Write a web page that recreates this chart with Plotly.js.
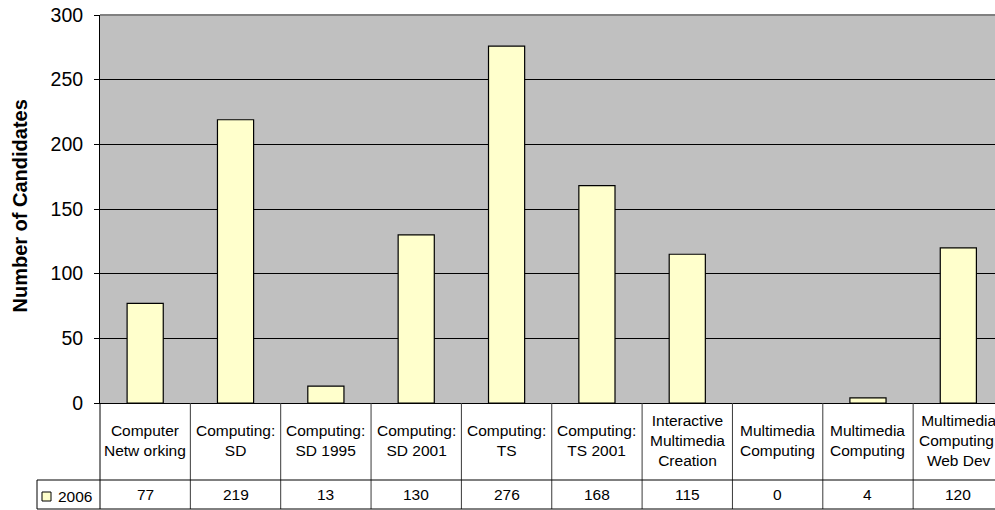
<!DOCTYPE html>
<html>
<head>
<meta charset="utf-8">
<script src="https://cdn.plot.ly/plotly-3.0.1.min.js"></script>
<style>
  html, body { margin: 0; padding: 0; background: #ffffff; overflow: hidden; }
  #chart { width: 995px; height: 510px; }
</style>
</head>
<body>
<div id="chart"></div>
<script>
// Programme names (table header lines) and 2006 candidate counts
const categories = [
  "Computer\nNetw orking",
  "Computing:\nSD",
  "Computing:\nSD 1995",
  "Computing:\nSD 2001",
  "Computing:\nTS",
  "Computing:\nTS 2001",
  "Interactive\nMultimedia\nCreation",
  "Multimedia\nComputing",
  "Multimedia\nComputing",
  "Multimedia\nComputing:\nWeb Dev"
];
const seriesName = "2006";
const values2006 = [77, 219, 13, 130, 276, 168, 115, 0, 4, 120];
const yTicks = [0, 50, 100, 150, 200, 250, 300];
const yTitle = "Number of Candidates";

// Geometry of the plot area (pixels)
const W = 995, H = 510;
const M = { l: 100, r: 0, t: 15, b: 107 };
const plotW = W - M.l - M.r;
const plotH = H - M.t - M.b;
const catPx = 90.35;                       // width of one category column
const xMax = -0.5 + plotW / catPx;         // last column runs past the right edge

// pixel -> paper helpers for the data table under the plot
const px = p => (p - M.l) / plotW;
const py = p => (M.t + plotH - p) / plotH;

const FONT = "Arial, 'Liberation Sans', sans-serif";
const idx = categories.map((_, i) => i);

const shapes = [];
const annotations = [];
const lineCol = "#3a3a3a";

// table: column separators from the x axis down to the bottom of the value row
for (let i = 1; i < categories.length; i++) {
  shapes.push({ type: "line", xref: "x", yref: "paper", x0: i - 0.5, x1: i - 0.5,
    y0: py(403), y1: py(509), line: { color: lineCol, width: 1 } });
}
// y axis line continues through the table
shapes.push({ type: "line", xref: "paper", yref: "paper", x0: 0, x1: 0,
  y0: py(403), y1: py(509), line: { color: "#000", width: 1 } });
// value row borders
shapes.push({ type: "line", xref: "paper", yref: "paper", x0: px(37), x1: px(W + 5),
  y0: py(480), y1: py(480), line: { color: "#000", width: 1 } });
shapes.push({ type: "line", xref: "paper", yref: "paper", x0: px(37), x1: px(W + 5),
  y0: py(509), y1: py(509), line: { color: "#000", width: 1 } });
shapes.push({ type: "line", xref: "paper", yref: "paper", x0: px(37), x1: px(37),
  y0: py(480), y1: py(509), line: { color: "#000", width: 1 } });
// legend key in the row header
shapes.push({ type: "rect", xref: "paper", yref: "paper", x0: px(42), x1: px(51),
  y0: py(501), y1: py(492), fillcolor: "#FFFFCC", line: { color: "#000", width: 1 } });
// plot area top border
shapes.push({ type: "line", xref: "paper", yref: "paper", x0: 0, x1: 1,
  y0: 1, y1: 1, line: { color: "#808080", width: 2 } });

// table header labels and values
categories.forEach((c, i) => {
  annotations.push({ xref: "x", yref: "paper", x: i, y: py(440),
    text: c.split("\n").join("<br>"), showarrow: false,
    xanchor: "center", yanchor: "middle", align: "center",
    font: { family: FONT, size: 15.5, color: "#000" } });
  annotations.push({ xref: "x", yref: "paper", x: i, y: py(494.5),
    text: String(values2006[i]), showarrow: false,
    xanchor: "center", yanchor: "middle",
    font: { family: FONT, size: 15.5, color: "#000" } });
});
annotations.push({ xref: "paper", yref: "paper", x: px(56), y: py(496),
  text: seriesName, showarrow: false, xanchor: "left", yanchor: "middle",
  font: { family: FONT, size: 15.5, color: "#000" } });
// y axis title
annotations.push({ xref: "paper", yref: "paper", x: px(19), y: py(206.5),
  text: "<b>" + yTitle + "</b>", showarrow: false, textangle: -90,
  xanchor: "center", yanchor: "middle",
  font: { family: FONT, size: 20, color: "#000" } });

const trace = {
  type: "bar",
  name: seriesName,
  x: idx,
  y: values2006,
  width: 0.4,
  marker: {
    color: "#FFFFCC",
    // an empty bar leaves no outline on the axis
    line: { color: "#000", width: values2006.map(v => (v === 0 ? 0 : 1.2)) }
  },
  hoverinfo: "x+y"
};

const layout = {
  width: W, height: H,
  margin: M,
  paper_bgcolor: "#ffffff",
  plot_bgcolor: "#C0C0C0",
  showlegend: false,
  xaxis: {
    range: [-0.5, xMax], showticklabels: false, ticks: "",
    showgrid: false, zeroline: false,
    showline: true, linecolor: "#000", linewidth: 1, fixedrange: true
  },
  yaxis: {
    range: [0, 300], tickvals: yTicks, ticktext: yTicks.map(String),
    ticks: "outside", ticklen: 5, tickcolor: "#000", tickwidth: 1,
    ticklabelstandoff: 7,
    showgrid: true, gridcolor: "#000", gridwidth: 1,
    zeroline: false, showline: true, linecolor: "#000", linewidth: 1,
    tickfont: { family: FONT, size: 19.5, color: "#000" },
    fixedrange: true
  },
  shapes: shapes,
  annotations: annotations
};

Plotly.newPlot("chart", [trace], layout, { displayModeBar: false, staticPlot: true });
</script>
</body>
</html>
